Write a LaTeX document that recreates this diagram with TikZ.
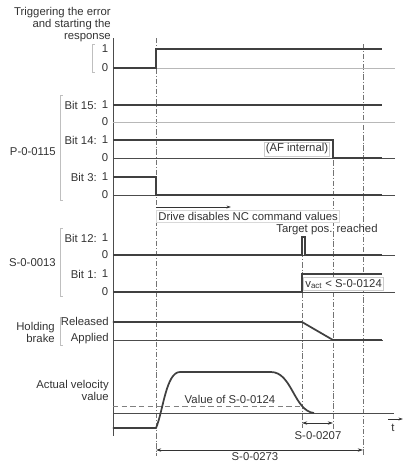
\documentclass[tikz,border=0pt]{standalone}
\usepackage{fontspec}
\setmainfont{Liberation Sans}
\usetikzlibrary{arrows.meta}
\begin{document}
\begin{tikzpicture}[x=0.75pt,y=-0.75pt,
  every node/.style={font=\fontsize{8.5}{9}\selectfont, text=black!80, inner sep=0pt},
  sig/.style={line width=1.3pt, draw=black!75},
  base/.style={line width=0.6pt, draw=black!70},
  lbase/.style={line width=0.6pt, draw=black!28},
  brk/.style={line width=0.6pt, draw=black!25},
  ddot/.style={line width=0.5pt, draw=black!55, dash pattern=on 4pt off 1.5pt on 0.6pt off 1.5pt},
  dimarr/.style={line width=0.5pt, draw=black!80, {Stealth[length=4pt,width=2.5pt]}-{Stealth[length=4pt,width=2.5pt]}},
  lbox/.style={draw=black!20, line width=0.4pt, fill=white, inner sep=1.2pt},
]
\useasboundingbox (0,0) rectangle (403,462);

% coordinates
\coordinate (tA) at (156,0);
\coordinate (tB) at (302,0);
\coordinate (tC) at (333,0);
\coordinate (tD) at (363,0);

% vertical dash-dot time lines
\draw[ddot] (156,38) -- (156,456);
\draw[ddot] (363,44) -- (363,456);
\draw[ddot] (302,242) -- (302,428);
\draw[ddot] (333,140) -- (333,430);

% main axis
\draw[base] (113,38) -- (113,436);

% ---------- baselines ----------
\draw[lbase] (156,68) -- (395,68);
\draw[lbase] (113,122) -- (395,122);
\draw[base] (113,158) -- (395,158);
\draw[base] (113,195) -- (395,195);
\draw[base] (113,255) -- (395,255);
\draw[base] (113,292) -- (395,292);
\draw[base] (113,340) -- (383,340);
\draw[base] (113,413) -- (394,413);

% ---------- signals ----------
\draw[sig] (113,68) -- (156,68) -- (156,49) -- (382,49);
\draw[sig] (113,105) -- (382,105);
\draw[sig] (113,140) -- (333,140) -- (333,158) -- (382,158);
\draw[sig] (113,177) -- (156,177) -- (156,195) -- (382,195);
\draw[sig] (113,255) -- (302,255) -- (302,237) -- (305,237) -- (305,255) -- (382,255);
\draw[sig] (113,292) -- (302,292) -- (302,274) -- (382,274);
\draw[sig] (113,322) -- (302,322) -- (333,340) -- (382,340);

% velocity
\draw[base, dash pattern=on 4pt off 2.5pt, draw=black!50] (113,406) -- (302,406);
\draw[sig] (113,428) -- (156,428) .. controls (163,412) and (166,372) .. (180,372)
  -- (271,372) .. controls (292,372) and (294,411) .. (314,413);

% ---------- brackets ----------
\draw[brk] (95,44) -- (92,44) -- (92,72) -- (95,72);
\draw[brk] (63,95) -- (60,95) -- (60,200) -- (63,200);
\draw[brk] (63,228) -- (60,228) -- (60,296) -- (63,296);
\draw[brk] (63,317) -- (60,317) -- (60,345) -- (63,345);

% ---------- left labels ----------
\node[anchor=east, align=right] (ltrig) at (111,25) {Triggering the error\\and starting the\\response};
\node (t1) at (105,49) {1};
\node (t0) at (105,68) {0};

\node[anchor=east] (b15) at (97,105) {Bit 15:};
\node (b15a) at (105,105) {1};
\node (b15b) at (105,122) {0};
\node[anchor=east] (b14) at (97,140) {Bit 14:};
\node (b14a) at (105,140) {1};
\node (b14b) at (105,158) {0};
\node[anchor=east] (b3) at (97,177) {Bit 3:};
\node (b3a) at (105,177) {1};
\node (b3b) at (105,195) {0};
\node[anchor=east] (p115) at (56,152) {P-0-0115};

\node[anchor=east] (b12) at (97,238) {Bit 12:};
\node (b12a) at (105,238) {1};
\node (b12b) at (105,255) {0};
\node[anchor=east] (b1) at (97,274) {Bit 1:};
\node (b1a) at (105,274) {1};
\node (b1b) at (105,292) {0};
\node[anchor=east] (s13) at (56,263) {S-0-0013};

\node[anchor=east, align=right] (hb) at (55,332) {Holding\\brake};
\node[anchor=east] (rel) at (109,321) {Released};
\node[anchor=east] (app) at (109,339) {Applied};

\node[anchor=east, align=right] (vel) at (109,390) {Actual velocity\\value};

% ---------- inner labels ----------
\node[lbox, anchor=east] (af) at (330,149) {(AF internal)};
\node[lbox, anchor=west, draw=black!15] (nc) at (156.5,216) {Drive disables NC command values};
\coordinate (ncs) at (156,207);
\coordinate (nce) at (231,207);
\draw[line width=0.5pt, draw=black!80, -{Stealth[length=3.5pt,width=2.2pt]}] (ncs) -- (nce);
\node (tpr) at (327,230) {Target pos. reached};
\node[lbox, anchor=west] (vact) at (303.5,284) {v\textsubscript{act} < S-0-0124};
\node[fill=white, inner sep=0.8pt] (vs) at (230,399) {Value of S-0-0124};

% ---------- time axis ----------
\coordinate (ta1) at (388,419);
\coordinate (ta2) at (403,419);
\draw[line width=0.5pt, draw=black!80, -{Stealth[length=3.5pt,width=2.2pt]}] (ta1) -- (ta2);
\node (tt) at (393,428) {t};

% ---------- dimension arrows ----------
\coordinate (d1a) at (302,423);
\coordinate (d1b) at (333,423);
\draw[dimarr] (d1a) -- (d1b);
\node (s207) at (318,436) {S-0-0207};
\coordinate (d2a) at (156,450);
\coordinate (d2b) at (363,450);
\draw[dimarr] (d2a) -- (d2b);
\node (s273) at (255,457) {S-0-0273};
\end{tikzpicture}
\end{document}
